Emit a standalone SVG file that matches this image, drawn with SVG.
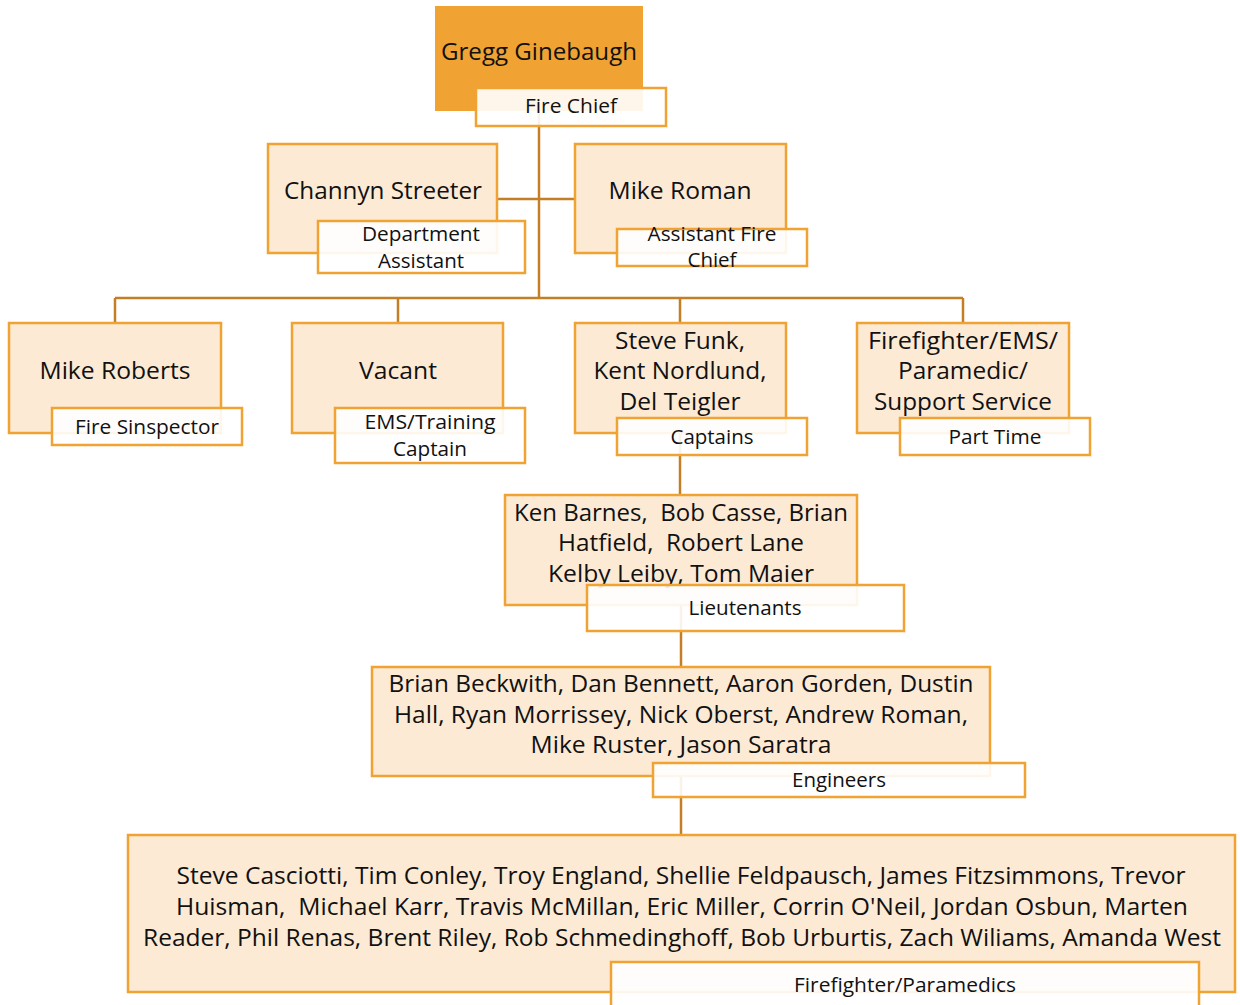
<svg xmlns="http://www.w3.org/2000/svg" width="1240" height="1005" viewBox="0 0 1240 1005">
  <style>
    .box { fill: #FCEAD5; stroke: #F0A232; stroke-width: 2.5; }
    .chief { fill: #F0A232; stroke: none; }
    .tag { fill: #FFFFFF; fill-opacity: 0.9; stroke: #F0A232; stroke-width: 2.5; }
    .name { font-family: "Open Sans", "Liberation Sans", sans-serif; font-size: 24px; fill: #111111; text-anchor: middle; white-space: pre; }
    .role { font-family: "Open Sans", "Liberation Sans", sans-serif; font-size: 19.5px; fill: #111111; text-anchor: middle; white-space: pre; }
    .link { fill: none; stroke: #C47F26; stroke-width: 2.5; }
  </style>
  <rect width="1240" height="1005" fill="#FFFFFF"/>

  <!-- reporting lines -->
  <g id="connectors">
    <path class="link" d="M539,111 V298"/>
    <path class="link" d="M497,199 H575"/>
    <path class="link" d="M115,298 H963"/>
    <path class="link" d="M115,298 V323 M398,298 V323 M680,298 V323 M963,298 V323"/>
    <path class="link" d="M680,433 V495"/>
    <path class="link" d="M681,605 V667"/>
    <path class="link" d="M681,776 V835"/>
  </g>

  <g id="fire-chief">
    <rect class="chief" x="435" y="6" width="208" height="105"/>
    <text class="name" x="539" y="60" textLength="196" lengthAdjust="spacingAndGlyphs">Gregg Ginebaugh</text>
    <rect class="tag" x="476" y="88" width="190" height="38"/>
    <text class="role" x="571" y="113" textLength="92" lengthAdjust="spacingAndGlyphs">Fire Chief</text>
  </g>

  <g id="department-assistant">
    <rect class="box" x="268" y="144" width="229" height="109"/>
    <text class="name" x="383" y="199" textLength="198" lengthAdjust="spacingAndGlyphs">Channyn Streeter</text>
    <rect class="tag" x="318" y="221" width="207" height="52"/>
    <text class="role" x="421" y="241" textLength="118" lengthAdjust="spacingAndGlyphs">Department</text>
    <text class="role" x="421" y="268" textLength="86" lengthAdjust="spacingAndGlyphs">Assistant</text>
  </g>

  <g id="assistant-fire-chief">
    <rect class="box" x="575" y="144" width="211" height="109"/>
    <text class="name" x="680" y="199" textLength="143" lengthAdjust="spacingAndGlyphs">Mike Roman</text>
    <rect class="tag" x="617" y="229" width="190" height="37"/>
    <text class="role" x="712" y="241" textLength="129" lengthAdjust="spacingAndGlyphs">Assistant Fire</text>
    <text class="role" x="712" y="267" textLength="49" lengthAdjust="spacingAndGlyphs">Chief</text>
  </g>

  <g id="fire-inspector">
    <rect class="box" x="9" y="323" width="212" height="110"/>
    <text class="name" x="115" y="379" textLength="151" lengthAdjust="spacingAndGlyphs">Mike Roberts</text>
    <rect class="tag" x="52" y="408" width="190" height="37"/>
    <text class="role" x="147" y="434" textLength="144" lengthAdjust="spacingAndGlyphs">Fire Sinspector</text>
  </g>

  <g id="training-captain">
    <rect class="box" x="292" y="323" width="211" height="110"/>
    <text class="name" x="398" y="379" textLength="78" lengthAdjust="spacingAndGlyphs">Vacant</text>
    <rect class="tag" x="335" y="408" width="190" height="55"/>
    <text class="role" x="430" y="429" textLength="131" lengthAdjust="spacingAndGlyphs">EMS/Training</text>
    <text class="role" x="430" y="456" textLength="74" lengthAdjust="spacingAndGlyphs">Captain</text>
  </g>

  <g id="captains">
    <rect class="box" x="575" y="323" width="211" height="110"/>
    <text class="name" x="680" y="349" textLength="130" lengthAdjust="spacingAndGlyphs">Steve Funk,</text>
    <text class="name" x="680" y="379" textLength="173" lengthAdjust="spacingAndGlyphs">Kent Nordlund,</text>
    <text class="name" x="680" y="410" textLength="121" lengthAdjust="spacingAndGlyphs">Del Teigler</text>
    <rect class="tag" x="617" y="418" width="190" height="37"/>
    <text class="role" x="712" y="444" textLength="83" lengthAdjust="spacingAndGlyphs">Captains</text>
  </g>

  <g id="part-time">
    <rect class="box" x="857" y="323" width="212" height="110"/>
    <text class="name" x="963" y="349" textLength="190" lengthAdjust="spacingAndGlyphs">Firefighter/EMS/</text>
    <text class="name" x="963" y="379" textLength="130" lengthAdjust="spacingAndGlyphs">Paramedic/</text>
    <text class="name" x="963" y="410" textLength="178" lengthAdjust="spacingAndGlyphs">Support Service</text>
    <rect class="tag" x="900" y="418" width="190" height="37"/>
    <text class="role" x="995" y="444" textLength="93" lengthAdjust="spacingAndGlyphs">Part Time</text>
  </g>

  <g id="lieutenants">
    <rect class="box" x="505" y="495" width="352" height="110"/>
    <text class="name" x="681" y="521" textLength="334" lengthAdjust="spacingAndGlyphs" xml:space="preserve">Ken Barnes,  Bob Casse, Brian</text>
    <text class="name" x="681" y="551" textLength="246" lengthAdjust="spacingAndGlyphs" xml:space="preserve">Hatfield,  Robert Lane</text>
    <text class="name" x="681" y="582" textLength="266" lengthAdjust="spacingAndGlyphs">Kelby Leiby, Tom Maier</text>
    <rect class="tag" x="587" y="585" width="317" height="46"/>
    <text class="role" x="745" y="615" textLength="113" lengthAdjust="spacingAndGlyphs">Lieutenants</text>
  </g>

  <g id="engineers">
    <rect class="box" x="372" y="667" width="618" height="109"/>
    <text class="name" x="681" y="692" textLength="585" lengthAdjust="spacingAndGlyphs">Brian Beckwith, Dan Bennett, Aaron Gorden, Dustin</text>
    <text class="name" x="681" y="723" textLength="574" lengthAdjust="spacingAndGlyphs">Hall, Ryan Morrissey, Nick Oberst, Andrew Roman,</text>
    <text class="name" x="681" y="753" textLength="301" lengthAdjust="spacingAndGlyphs">Mike Ruster, Jason Saratra</text>
    <rect class="tag" x="653" y="763" width="372" height="34"/>
    <text class="role" x="839" y="787" textLength="94" lengthAdjust="spacingAndGlyphs">Engineers</text>
  </g>

  <g id="firefighter-paramedics">
    <rect class="box" x="128" y="835" width="1107" height="157"/>
    <text class="name" x="681" y="884" textLength="1009" lengthAdjust="spacingAndGlyphs">Steve Casciotti, Tim Conley, Troy England, Shellie Feldpausch, James Fitzsimmons, Trevor</text>
    <text class="name" x="682" y="915" textLength="1012" lengthAdjust="spacingAndGlyphs" xml:space="preserve">Huisman,  Michael Karr, Travis McMillan, Eric Miller, Corrin O'Neil, Jordan Osbun, Marten</text>
    <text class="name" x="682" y="946" textLength="1078" lengthAdjust="spacingAndGlyphs">Reader, Phil Renas, Brent Riley, Rob Schmedinghoff, Bob Urburtis, Zach Wiliams, Amanda West</text>
    <rect class="tag" x="611" y="962" width="588" height="50"/>
    <text class="role" x="905" y="992" textLength="222" lengthAdjust="spacingAndGlyphs">Firefighter/Paramedics</text>
  </g>
</svg>
